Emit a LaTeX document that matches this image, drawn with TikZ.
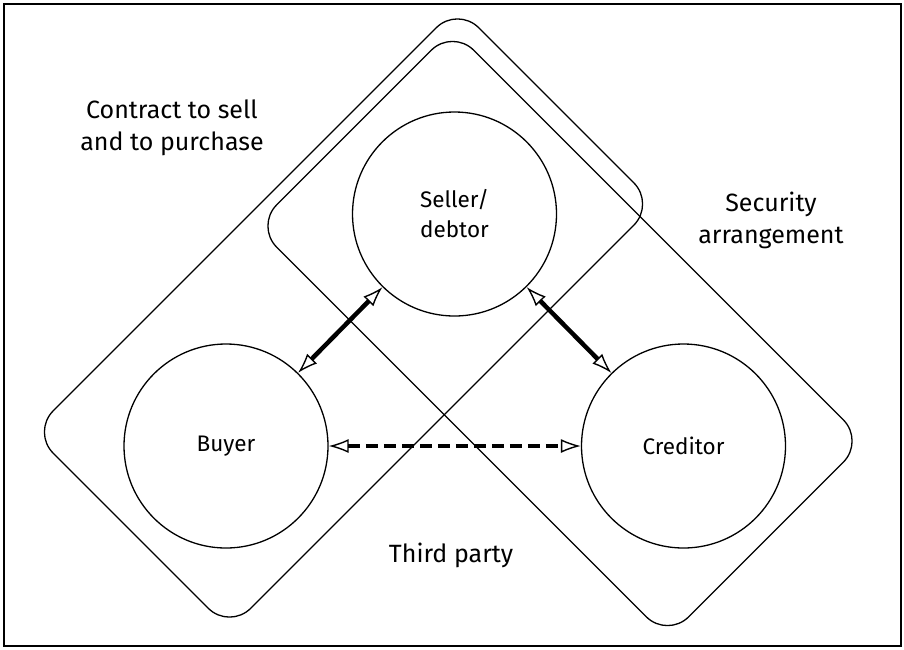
\documentclass[tikz,border=0pt]{standalone}
\usepackage{fontspec}
\setmainfont{Fira Sans}
\usetikzlibrary{arrows.meta}
\begin{document}
\begin{tikzpicture}[x=1pt,y=-1pt,
  party/.style={circle,draw,line width=1.3pt,minimum size=204pt,inner sep=0pt,align=center,font=\fontsize{22.5}{30}\selectfont},
  zone/.style={draw,line width=1.3pt,rounded corners=30pt},
  lbl/.style={align=center,anchor=base,font=\fontsize{25}{32}\selectfont},
  link/.style={line width=4.5pt,{Latex[open,length=20pt,width=14pt,line width=1.4pt]}-{Latex[open,length=20pt,width=14pt,line width=1.4pt]}},
  dlink/.style={link,line width=4pt,dash pattern=on 12pt off 6pt}]
\useasboundingbox (0,0) rectangle (904,649);
\draw[line width=2pt] (4,4) rectangle (901,646);
% zones
\draw[zone] (32,432) -- (457.5,6.5) -- (655,204) -- (229.5,629.5) -- cycle;
\draw[zone] (255.5,226) -- (452.5,29) -- (864.5,441) -- (667.5,638) -- cycle;
% parties
\node[party] (seller) at (454.5,214) {Seller/\\debtor};
\node[party] (buyer) at (226,446) {Buyer};
\node[party] (creditor) at (683.5,446) {Creditor};
% links
\draw[link] (seller) -- (buyer);
\draw[link] (seller) -- (creditor);
\draw[dlink] (buyer) -- (creditor);
% labels
\node[lbl] (contract) at (172,150) {Contract to sell\\and to purchase};
\node[lbl] (security) at (771,243) {Security\\arrangement};
\node[lbl] (third) at (451,562) {Third party};
\end{tikzpicture}
\end{document}
